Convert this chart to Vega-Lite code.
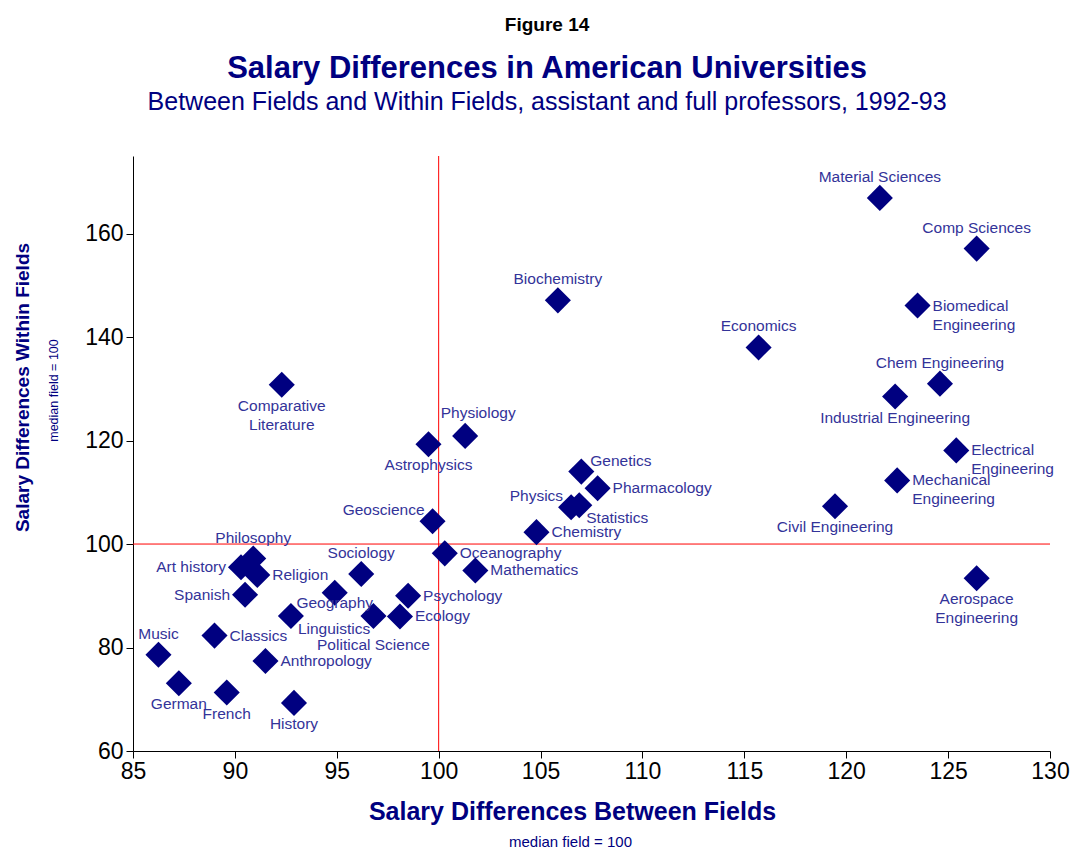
{
  "$schema": "https://vega.github.io/schema/vega-lite/v6.json",
  "background": "white",
  "padding": {"left": 12, "top": 15, "right": 5, "bottom": 0},
  "title": {"text": "Figure 14", "fontSize": 19, "font": "Liberation Sans", "fontWeight": "bold", "color": "black", "anchor": "middle", "frame": "bounds", "offset": 18, "dx": 6},
  "config": {"view": {"stroke": null}, "font": "Liberation Sans"},
  "vconcat": [
    {
      "title": {"text": "Salary Differences in American Universities", "subtitle": "Between Fields and Within Fields, assistant and full professors, 1992-93", "fontSize": 31, "subtitleFontSize": 25, "font": "Liberation Sans", "subtitleFont": "Liberation Sans", "fontWeight": "bold", "color": "#000080", "subtitleColor": "#000080", "anchor": "middle", "frame": "bounds", "offset": 40, "subtitlePadding": 5, "dx": 6},
      "width": 917,
      "height": 595,
      "data": {"values": [
        {"field": "Material Sciences", "between": 121.65, "within": 166.9, "pos": "above"},
        {"field": "Comp Sciences", "between": 126.4, "within": 157.1, "pos": "above"},
        {"field": "Biochemistry", "between": 105.85, "within": 147.1, "pos": "above"},
        {"field": "Biomedical\nEngineering", "between": 123.5, "within": 146.1, "pos": "right"},
        {"field": "Economics", "between": 115.7, "within": 138.0, "pos": "above"},
        {"field": "Chem Engineering", "between": 124.6, "within": 131.0, "pos": "above"},
        {"field": "Industrial Engineering", "between": 122.4, "within": 128.5, "pos": "below"},
        {"field": "Comparative\nLiterature", "between": 92.3, "within": 130.8, "pos": "below"},
        {"field": "Physiology", "between": 101.3, "within": 120.9, "pos": "aboveRight"},
        {"field": "Astrophysics", "between": 99.5, "within": 119.3, "pos": "below"},
        {"field": "Electrical\nEngineering", "between": 125.4, "within": 118.1, "pos": "right"},
        {"field": "Genetics", "between": 107.0, "within": 114.0, "pos": "rightUp"},
        {"field": "Pharmacology", "between": 107.8, "within": 110.8, "pos": "right"},
        {"field": "Mechanical\nEngineering", "between": 122.5, "within": 112.3, "pos": "right"},
        {"field": "Physics", "between": 106.5, "within": 107.1, "pos": "leftUp"},
        {"field": "Statistics", "between": 106.9, "within": 107.5, "pos": "rightDown"},
        {"field": "Civil Engineering", "between": 119.45, "within": 107.3, "pos": "below"},
        {"field": "Geoscience", "between": 99.7, "within": 104.4, "pos": "leftUp"},
        {"field": "Chemistry", "between": 104.8, "within": 102.3, "pos": "right"},
        {"field": "Oceanography", "between": 100.3, "within": 98.2, "pos": "right"},
        {"field": "Philosophy", "between": 90.9, "within": 97.2, "pos": "above"},
        {"field": "Art history", "between": 90.3, "within": 95.5, "pos": "left"},
        {"field": "Religion", "between": 91.1, "within": 94.0, "pos": "right"},
        {"field": "Mathematics", "between": 101.8, "within": 94.9, "pos": "right"},
        {"field": "Sociology", "between": 96.2, "within": 94.2, "pos": "above"},
        {"field": "Aerospace\nEngineering", "between": 126.4, "within": 93.4, "pos": "below"},
        {"field": "Geography", "between": 94.9, "within": 90.6, "pos": "belowNear"},
        {"field": "Spanish", "between": 90.5, "within": 90.2, "pos": "left"},
        {"field": "Psychology", "between": 98.5, "within": 90.0, "pos": "right"},
        {"field": "Linguistics", "between": 92.75, "within": 86.1, "pos": "rightDown"},
        {"field": "Political Science", "between": 96.8, "within": 86.1, "pos": "belowFar"},
        {"field": "Ecology", "between": 98.1, "within": 86.0, "pos": "right"},
        {"field": "Classics", "between": 89.0, "within": 82.3, "pos": "right"},
        {"field": "Music", "between": 86.25, "within": 78.6, "pos": "above"},
        {"field": "Anthropology", "between": 91.5, "within": 77.4, "pos": "right"},
        {"field": "German", "between": 87.25, "within": 73.1, "pos": "below"},
        {"field": "French", "between": 89.6, "within": 71.3, "pos": "below"},
        {"field": "History", "between": 92.9, "within": 69.3, "pos": "below"}
      ]},
      "layer": [
        {
          "data": {"values": [{}]},
          "mark": {"type": "rule", "color": "#ff0000", "strokeWidth": 1},
          "encoding": {
            "x": {"datum": 100, "type": "quantitative", "scale": {"domain": [85, 130], "nice": false, "zero": false},
              "axis": {"orient": "bottom", "title": "median field = 100", "labels": false, "ticks": false, "domain": false, "grid": false, "titleFontSize": 15, "titleFontWeight": "normal", "titleColor": "#000080", "titlePadding": 84, "titleX": 437, "titleY": 83, "titleFont": "Liberation Sans"}}
          }
        },
        {
          "data": {"values": [{}]},
          "mark": {"type": "rule", "color": "#ff0000", "strokeWidth": 1},
          "encoding": {
            "y": {"datum": 100, "type": "quantitative", "scale": {"domain": [60, 175], "nice": false, "zero": false},
              "axis": {"orient": "left", "title": "Salary Differences Within Fields", "labels": false, "ticks": false, "domain": false, "grid": false, "titleFontSize": 19, "titleFontWeight": "bold", "titleColor": "#000080", "titlePadding": 94, "titleX": -101, "titleY": 231, "titleFont": "Liberation Sans"}}
          }
        },
        {
          "mark": {"type": "point", "shape": "diamond", "filled": true, "size": 680, "color": "#000080", "opacity": 1},
          "encoding": {
            "x": {"field": "between", "type": "quantitative", "scale": {"domain": [85, 130], "nice": false, "zero": false},
              "axis": {"orient": "bottom", "values": [85, 90, 95, 100, 105, 110, 115, 120, 125, 130], "title": "Salary Differences Between Fields", "titleFontSize": 25, "titleFontWeight": "bold", "titleColor": "#000080", "titlePadding": 16, "titleX": 439, "titleY": 48, "titleFont": "Liberation Sans", "labelFontSize": 23, "labelColor": "black", "labelFont": "Liberation Sans", "labelFlush": false, "labelPadding": 2, "tickSize": 7, "tickColor": "black", "domainColor": "black", "grid": false}},
            "y": {"field": "within", "type": "quantitative", "scale": {"domain": [60, 175], "nice": false, "zero": false},
              "axis": {"orient": "left", "values": [60, 80, 100, 120, 140, 160], "title": "median field = 100", "titleFontSize": 12.5, "titleFontWeight": "normal", "titleColor": "#000080", "titlePadding": 18, "titleX": -73, "titleY": 234, "titleFont": "Liberation Sans", "labelFontSize": 23, "labelColor": "black", "labelFont": "Liberation Sans", "labelFlush": false, "labelPadding": 3, "tickSize": 7, "tickColor": "black", "domainColor": "black", "grid": false}}
          }
        },
        {
          "transform": [{"filter": "datum.pos === 'above'"}],
          "mark": {"type": "text", "align": "center", "baseline": "middle", "dy": -21, "fontSize": 15.5, "color": "#333399", "lineBreak": "\n"},
          "encoding": {
            "x": {"field": "between", "type": "quantitative", "scale": {"domain": [85, 130], "nice": false, "zero": false}, "axis": null},
            "y": {"field": "within", "type": "quantitative", "scale": {"domain": [60, 175], "nice": false, "zero": false}, "axis": null},
            "text": {"field": "field"}
          }
        },
        {
          "transform": [{"filter": "datum.pos === 'aboveRight'"}],
          "mark": {"type": "text", "align": "center", "baseline": "middle", "dx": 13, "dy": -23, "fontSize": 15.5, "color": "#333399", "lineBreak": "\n"},
          "encoding": {
            "x": {"field": "between", "type": "quantitative", "scale": {"domain": [85, 130], "nice": false, "zero": false}, "axis": null},
            "y": {"field": "within", "type": "quantitative", "scale": {"domain": [60, 175], "nice": false, "zero": false}, "axis": null},
            "text": {"field": "field"}
          }
        },
        {
          "transform": [{"filter": "datum.pos === 'below'"}],
          "mark": {"type": "text", "align": "center", "baseline": "top", "dy": 14, "fontSize": 15.5, "lineHeight": 19, "color": "#333399", "lineBreak": "\n"},
          "encoding": {
            "x": {"field": "between", "type": "quantitative", "scale": {"domain": [85, 130], "nice": false, "zero": false}, "axis": null},
            "y": {"field": "within", "type": "quantitative", "scale": {"domain": [60, 175], "nice": false, "zero": false}, "axis": null},
            "text": {"field": "field"}
          }
        },
        {
          "transform": [{"filter": "datum.pos === 'belowNear'"}],
          "mark": {"type": "text", "align": "center", "baseline": "top", "dy": 3, "fontSize": 15.5, "color": "#333399", "lineBreak": "\n"},
          "encoding": {
            "x": {"field": "between", "type": "quantitative", "scale": {"domain": [85, 130], "nice": false, "zero": false}, "axis": null},
            "y": {"field": "within", "type": "quantitative", "scale": {"domain": [60, 175], "nice": false, "zero": false}, "axis": null},
            "text": {"field": "field"}
          }
        },
        {
          "transform": [{"filter": "datum.pos === 'belowFar'"}],
          "mark": {"type": "text", "align": "center", "baseline": "top", "dy": 22, "fontSize": 15.5, "color": "#333399", "lineBreak": "\n"},
          "encoding": {
            "x": {"field": "between", "type": "quantitative", "scale": {"domain": [85, 130], "nice": false, "zero": false}, "axis": null},
            "y": {"field": "within", "type": "quantitative", "scale": {"domain": [60, 175], "nice": false, "zero": false}, "axis": null},
            "text": {"field": "field"}
          }
        },
        {
          "transform": [{"filter": "datum.pos === 'right'"}],
          "mark": {"type": "text", "align": "left", "baseline": "middle", "dx": 15, "fontSize": 15.5, "lineHeight": 19, "color": "#333399", "lineBreak": "\n"},
          "encoding": {
            "x": {"field": "between", "type": "quantitative", "scale": {"domain": [85, 130], "nice": false, "zero": false}, "axis": null},
            "y": {"field": "within", "type": "quantitative", "scale": {"domain": [60, 175], "nice": false, "zero": false}, "axis": null},
            "text": {"field": "field"}
          }
        },
        {
          "transform": [{"filter": "datum.pos === 'rightUp'"}],
          "mark": {"type": "text", "align": "left", "baseline": "middle", "dx": 9, "dy": -11, "fontSize": 15.5, "color": "#333399", "lineBreak": "\n"},
          "encoding": {
            "x": {"field": "between", "type": "quantitative", "scale": {"domain": [85, 130], "nice": false, "zero": false}, "axis": null},
            "y": {"field": "within", "type": "quantitative", "scale": {"domain": [60, 175], "nice": false, "zero": false}, "axis": null},
            "text": {"field": "field"}
          }
        },
        {
          "transform": [{"filter": "datum.pos === 'rightDown'"}],
          "mark": {"type": "text", "align": "left", "baseline": "middle", "dx": 7, "dy": 13, "fontSize": 15.5, "color": "#333399", "lineBreak": "\n"},
          "encoding": {
            "x": {"field": "between", "type": "quantitative", "scale": {"domain": [85, 130], "nice": false, "zero": false}, "axis": null},
            "y": {"field": "within", "type": "quantitative", "scale": {"domain": [60, 175], "nice": false, "zero": false}, "axis": null},
            "text": {"field": "field"}
          }
        },
        {
          "transform": [{"filter": "datum.pos === 'left'"}],
          "mark": {"type": "text", "align": "right", "baseline": "middle", "dx": -15, "fontSize": 15.5, "color": "#333399", "lineBreak": "\n"},
          "encoding": {
            "x": {"field": "between", "type": "quantitative", "scale": {"domain": [85, 130], "nice": false, "zero": false}, "axis": null},
            "y": {"field": "within", "type": "quantitative", "scale": {"domain": [60, 175], "nice": false, "zero": false}, "axis": null},
            "text": {"field": "field"}
          }
        },
        {
          "transform": [{"filter": "datum.pos === 'leftUp'"}],
          "mark": {"type": "text", "align": "right", "baseline": "middle", "dx": -8, "dy": -11, "fontSize": 15.5, "color": "#333399", "lineBreak": "\n"},
          "encoding": {
            "x": {"field": "between", "type": "quantitative", "scale": {"domain": [85, 130], "nice": false, "zero": false}, "axis": null},
            "y": {"field": "within", "type": "quantitative", "scale": {"domain": [60, 175], "nice": false, "zero": false}, "axis": null},
            "text": {"field": "field"}
          }
        }
      ],
      "resolve": {"axis": {"x": "independent", "y": "independent"}}
    }
  ]
}
